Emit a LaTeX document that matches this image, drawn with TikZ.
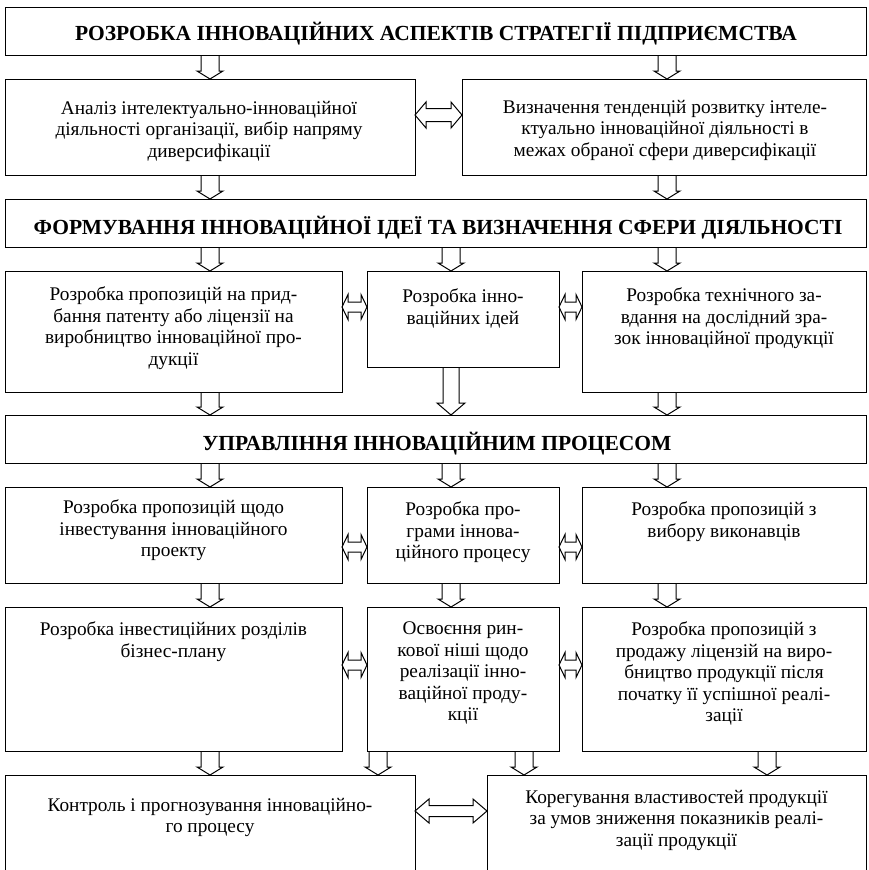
\documentclass[tikz,border=0pt]{standalone}
\usepackage{fontspec}
\setmainfont{Liberation Serif}
\usetikzlibrary{calc}
\tikzset{
  box/.style={draw, line width=1pt, rectangle, inner sep=0pt, outer sep=0pt, anchor=north west},
  txt/.style={align=center, inner sep=0pt, anchor=north, yshift=15.05pt,
    font=\fontsize{19.3}{21.5}\selectfont, execute at begin node=\strut},
  ttl/.style={txt, font=\fontsize{21.5}{21.5}\selectfont\bfseries},
  arr/.style={line width=1pt, line join=miter},
  vfat/.style n args={3}{to path={let \p1=(\tikztostart),\p2=(\tikztotarget) in
    (\x1-#1,\y1) -- (\x1-#1,\y2+#3) -- (\x1-#2,\y2+#3) -- (\x1,\y2) -- (\x1+#2,\y2+#3) -- (\x1+#1,\y2+#3) -- (\x1+#1,\y1)}},
  hfat/.style n args={3}{to path={let \p1=(\tikztostart),\p2=(\tikztotarget) in
    (\x1,\y1) -- (\x1+#3,\y1+#2) -- (\x1+#3,\y1+#1) -- (\x2-#3,\y1+#1) -- (\x2-#3,\y1+#2) -- (\x2,\y1)
    -- (\x2-#3,\y1-#2) -- (\x2-#3,\y1-#1) -- (\x1+#3,\y1-#1) -- (\x1+#3,\y1-#2) -- cycle}},
  vstd/.style={vfat={9pt}{13pt}{8pt}},
  vbig/.style={vfat={8pt}{14pt}{12pt}},
  hbig/.style={hfat={6.5pt}{13pt}{11pt}},
  hsml/.style={hfat={5pt}{12.5pt}{6pt}},
  hlong/.style={hfat={5.5pt}{12pt}{14pt}},
}
\begin{document}
\begin{tikzpicture}[x=1pt,y=-1pt]
\useasboundingbox (0,0) rectangle (868,870);
\clip (0,0) rectangle (868,870);
% boxes
\node[box, minimum width=861.5pt, minimum height=48pt] (T1) at (5,7) {};
\node[box, minimum width=410pt, minimum height=96pt] (B2L) at (5,79) {};
\node[box, minimum width=404.5pt, minimum height=96pt] (B2R) at (462,79) {};
\node[box, minimum width=861.5pt, minimum height=48pt] (T2) at (5,199) {};
\node[box, minimum width=337pt, minimum height=121pt] (B4L) at (5,271) {};
\node[box, minimum width=192pt, minimum height=96pt] (B4M) at (367,271) {};
\node[box, minimum width=284.5pt, minimum height=121pt] (B4R) at (582,271) {};
\node[box, minimum width=861.5pt, minimum height=48pt] (T3) at (5,415) {};
\node[box, minimum width=337pt, minimum height=96pt] (B6L) at (5,487) {};
\node[box, minimum width=192pt, minimum height=96pt] (B6M) at (367,487) {};
\node[box, minimum width=284.5pt, minimum height=96pt] (B6R) at (582,487) {};
\node[box, minimum width=337pt, minimum height=144pt] (B7L) at (5,607) {};
\node[box, minimum width=192pt, minimum height=144pt] (B7M) at (367,607) {};
\node[box, minimum width=284.5pt, minimum height=144pt] (B7R) at (582,607) {};
\node[box, minimum width=410pt, minimum height=130pt] (B8L) at (5,775) {};
\node[box, minimum width=379.5pt, minimum height=130pt] (B8R) at (487,775) {};
% texts
\node[ttl] (t1) at (436,37.5) {РОЗРОБКА ІННОВАЦІЙНИХ АСПЕКТІВ СТРАТЕГІЇ ПІДПРИЄМСТВА};
\node[txt] (t2l) at (209,116) {Аналіз інтелектуально-інноваційної\\діяльності організації, вибір напряму\\диверсифікації};
\node[txt] (t2r) at (665,115) {Визначення тенденцій розвитку інтеле-\\ктуально інноваційної діяльності в\\межах обраної сфери диверсифікації};
\node[ttl] (t2) at (438,231) {ФОРМУВАННЯ ІННОВАЦІЙНОЇ ІДЕЇ ТА ВИЗНАЧЕННЯ СФЕРИ ДІЯЛЬНОСТІ};
\node[txt] (t4l) at (173.5,302) {Розробка пропозицій на прид-\\бання патенту або ліцензії на\\виробництво інноваційної про-\\дукції};
\node[txt] (t4m) at (463,304) {Розробка інно-\\ваційних ідей};
\node[txt] (t4r) at (724,303) {Розробка технічного за-\\вдання на дослідний зра-\\зок інноваційної продукції};
\node[ttl] (t3) at (437,447) {УПРАВЛІННЯ ІННОВАЦІЙНИМ ПРОЦЕСОМ};
\node[txt] (t6l) at (173.5,515) {Розробка пропозицій щодо\\інвестування інноваційного\\проекту};
\node[txt] (t6m) at (463,517) {Розробка про-\\грами іннова-\\ційного процесу};
\node[txt] (t6r) at (724,517) {Розробка пропозицій з\\вибору виконавців};
\node[txt] (t7l) at (173.5,637) {Розробка інвестиційних розділів\\бізнес-плану};
\node[txt] (t7m) at (463,637) {Освоєння рин-\\кової ніші щодо\\реалізації інно-\\ваційної проду-\\кції};
\node[txt] (t7r) at (724,637) {Розробка пропозицій з\\продажу ліцензій на виро-\\бництво продукції після\\початку її успішної реалі-\\зації};
\node[txt] (t8l) at (210,813) {Контроль і прогнозування інноваційно-\\го процесу};
\node[txt] (t8r) at (676.5,805) {Корегування властивостей продукції\\за умов зниження показників реалі-\\зації продукції};
% arrow columns and rows
\coordinate (xa) at (210,0);
\coordinate (xb) at (451,0);
\coordinate (xc) at (667,0);
\coordinate (xd) at (378,0);
\coordinate (xe) at (524,0);
\coordinate (xf) at (767,0);
\coordinate (y2) at (0,115);
\coordinate (y4) at (0,307);
\coordinate (y6) at (0,547);
\coordinate (y7) at (0,665);
\coordinate (y8) at (0,811);
% vertical arrows
\draw[arr] (T1.south -| xa) to[vstd] (B2L.north -| xa);
\draw[arr] (T1.south -| xc) to[vstd] (B2R.north -| xc);
\draw[arr] (B2L.south -| xa) to[vstd] (T2.north -| xa);
\draw[arr] (B2R.south -| xc) to[vstd] (T2.north -| xc);
\draw[arr] (T2.south -| xa) to[vstd] (B4L.north -| xa);
\draw[arr] (T2.south -| xb) to[vstd] (B4M.north -| xb);
\draw[arr] (T2.south -| xc) to[vstd] (B4R.north -| xc);
\draw[arr] (B4L.south -| xa) to[vstd] (T3.north -| xa);
\draw[arr] (B4M.south -| xb) to[vbig] (T3.north -| xb);
\draw[arr] (B4R.south -| xc) to[vstd] (T3.north -| xc);
\draw[arr] (T3.south -| xa) to[vstd] (B6L.north -| xa);
\draw[arr] (T3.south -| xb) to[vstd] (B6M.north -| xb);
\draw[arr] (T3.south -| xc) to[vstd] (B6R.north -| xc);
\draw[arr] (B6L.south -| xa) to[vstd] (B7L.north -| xa);
\draw[arr] (B6M.south -| xb) to[vstd] (B7M.north -| xb);
\draw[arr] (B6R.south -| xc) to[vstd] (B7R.north -| xc);
\draw[arr] (B7L.south -| xa) to[vstd] (B8L.north -| xa);
\draw[arr] (B7M.south -| xd) to[vstd] (B8L.north -| xd);
\draw[arr] (B7M.south -| xe) to[vstd] (B8R.north -| xe);
\draw[arr] (B7R.south -| xf) to[vstd] (B8R.north -| xf);
% horizontal double arrows
\draw[arr] (B2L.east |- y2) to[hbig] (B2R.west |- y2);
\draw[arr] (B4L.east |- y4) to[hsml] (B4M.west |- y4);
\draw[arr] (B4M.east |- y4) to[hsml] (B4R.west |- y4);
\draw[arr] (B6L.east |- y6) to[hsml] (B6M.west |- y6);
\draw[arr] (B6M.east |- y6) to[hsml] (B6R.west |- y6);
\draw[arr] (B7L.east |- y7) to[hsml] (B7M.west |- y7);
\draw[arr] (B7M.east |- y7) to[hsml] (B7R.west |- y7);
\draw[arr] (B8L.east |- y8) to[hlong] (B8R.west |- y8);
\end{tikzpicture}
\end{document}
